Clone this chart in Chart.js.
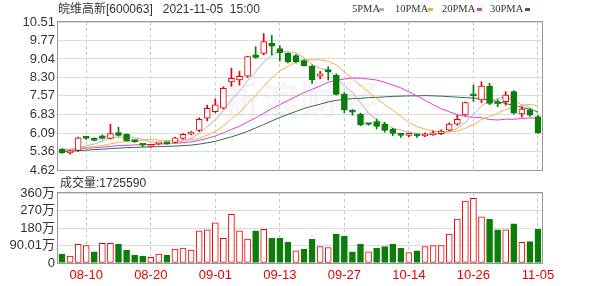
<!DOCTYPE html>
<html><head><meta charset="utf-8">
<script src="https://cdn.jsdelivr.net/npm/chart.js@4"></script>
<style>
html,body{margin:0;padding:0;background:#fff;}
#wrap{position:relative;width:600px;height:286px;overflow:hidden;font-family:'Liberation Sans','Noto Sans CJK SC',sans-serif;}
canvas{position:absolute;left:0;top:0;}
.t{position:absolute;white-space:pre;color:#333;font-size:12px;line-height:14px;}
.lg{position:absolute;top:3px;white-space:pre;color:#333;font-family:'Liberation Serif',serif;font-size:10.5px;line-height:12px;}
.mk{position:absolute;top:8px;width:5px;height:3px;}
</style></head><body>
<div id="wrap">
<canvas id="vol" width="600" height="286"></canvas>
<canvas id="price" width="600" height="286"></canvas>
<div class="t" style="left:58px;top:2px;">皖维高新[600063]   2021-11-05  15:00</div>
<div class="t" style="left:60px;top:176px;">成交量:1725590</div>
<div class="lg" style="left:352px;">5PMA</div><div class="mk" style="left:379px;background:#b4b4b4;"></div>
<div class="lg" style="left:395px;">10PMA</div><div class="mk" style="left:428px;background:#f2b33d;"></div>
<div class="lg" style="left:442px;">20PMA</div><div class="mk" style="left:477px;background:#e03ce0;"></div>
<div class="lg" style="left:490px;">30PMA</div><div class="mk" style="left:525px;background:#2e6e3e;"></div>
</div>
<script>
const dates = ['08-05','08-06','08-09','08-10','08-11','08-12','08-13','08-16','08-17','08-18','08-19','08-20','08-23','08-24','08-25','08-26','08-27','08-30','08-31','09-01','09-02','09-03','09-06','09-07','09-08','09-09','09-10','09-13','09-14','09-15','09-16','09-17','09-22','09-23','09-24','09-27','09-28','09-29','09-30','10-08','10-11','10-12','10-13','10-14','10-15','10-18','10-19','10-20','10-21','10-22','10-25','10-26','10-27','10-28','10-29','11-01','11-02','11-03','11-04','11-05'];
const tickDates = ['08-10','08-20','09-01','09-13','09-27','10-14','10-26','11-05'];
const open  = [5.44,5.30,5.40,5.90,5.86,5.98,5.88,6.11,6.04,5.78,5.64,5.56,5.66,5.68,5.72,5.88,6.05,6.20,6.68,6.94,7.08,8.13,8.20,8.35,9.20,9.26,9.66,9.45,9.26,9.17,8.97,8.75,8.35,8.62,8.40,7.63,6.95,6.84,6.45,6.55,6.45,6.25,6.03,6.00,6.02,5.98,6.02,6.07,6.21,6.44,6.81,7.62,7.41,7.96,7.30,7.34,7.74,6.85,7.01,6.75];
const high  = [5.47,5.40,5.93,5.94,5.90,6.02,6.44,6.32,6.06,5.82,5.66,5.63,5.69,5.70,5.93,6.07,6.15,6.70,7.20,7.45,7.93,8.67,8.55,9.15,9.53,10.05,9.98,9.57,9.28,9.22,9.00,8.80,8.55,8.73,8.45,7.70,7.03,6.88,6.47,6.65,6.52,6.28,6.03,6.08,6.05,6.10,6.18,6.22,6.50,6.80,7.33,8.00,8.13,8.07,7.43,7.74,7.78,7.14,7.06,6.80];
const low   = [5.28,5.25,5.36,5.84,5.78,5.85,5.85,5.97,5.77,5.72,5.55,5.53,5.64,5.65,5.70,5.85,6.02,6.15,6.58,6.90,7.05,7.95,8.00,8.30,9.06,9.20,9.20,8.95,8.88,8.88,8.75,8.07,8.25,8.20,7.60,6.90,6.80,6.38,6.40,6.25,6.12,5.98,5.92,5.95,5.92,5.95,6.00,6.03,6.18,6.40,6.78,7.35,7.30,7.22,7.14,7.20,6.85,6.72,6.75,6.08];
const close = [5.30,5.38,5.90,5.88,5.80,5.88,6.07,6.00,5.79,5.75,5.61,5.60,5.68,5.67,5.90,6.04,6.09,6.64,7.07,7.21,7.87,8.27,8.35,9.13,9.10,9.73,9.55,9.29,8.93,8.93,8.77,8.20,8.45,8.52,7.63,7.01,6.92,6.41,6.43,6.35,6.20,6.08,6.00,6.03,5.98,6.05,6.10,6.17,6.45,6.64,7.30,7.57,7.96,7.27,7.25,7.60,6.88,7.04,6.80,6.10];
const ma5  = [5.42,5.41,5.50,5.58,5.65,5.77,5.91,5.93,5.91,5.90,5.84,5.75,5.69,5.66,5.69,5.78,5.88,6.07,6.35,6.61,6.98,7.41,7.75,8.17,8.54,8.92,9.17,9.36,9.32,9.29,9.09,8.82,8.66,8.57,8.31,7.96,7.71,7.30,6.88,6.62,6.46,6.29,6.21,6.13,6.06,6.03,6.03,6.07,6.15,6.28,6.53,6.83,7.18,7.35,7.47,7.53,7.39,7.21,7.11,6.88];
const ma10 = [5.44,5.43,5.48,5.52,5.55,5.60,5.66,5.72,5.75,5.78,5.81,5.83,5.81,5.79,5.80,5.81,5.82,5.88,6.01,6.15,6.38,6.65,6.91,7.26,7.58,7.95,8.29,8.56,8.75,8.92,9.01,9.00,9.01,8.95,8.80,8.53,8.27,7.98,7.73,7.47,7.21,7.00,6.76,6.51,6.34,6.25,6.16,6.14,6.14,6.17,6.28,6.43,6.63,6.75,6.88,7.03,7.11,7.20,7.23,7.18];
const ma20 = [5.45,5.44,5.47,5.49,5.50,5.53,5.56,5.59,5.60,5.62,5.63,5.63,5.65,5.66,5.68,5.71,5.74,5.80,5.88,5.97,6.10,6.24,6.36,6.53,6.69,6.88,7.06,7.22,7.38,7.54,7.70,7.83,7.96,8.11,8.19,8.24,8.28,8.27,8.24,8.20,8.11,8.00,7.89,7.73,7.57,7.39,7.22,7.06,6.94,6.82,6.75,6.72,6.70,6.63,6.61,6.64,6.64,6.67,6.69,6.68];
const ma30 = [5.36,5.37,5.39,5.41,5.43,5.45,5.47,5.49,5.51,5.52,5.53,5.54,5.55,5.56,5.57,5.59,5.61,5.65,5.70,5.76,5.85,5.94,6.04,6.16,6.29,6.43,6.57,6.71,6.83,6.95,7.07,7.16,7.24,7.33,7.39,7.43,7.46,7.47,7.50,7.51,7.53,7.55,7.56,7.57,7.57,7.58,7.57,7.56,7.54,7.52,7.50,7.48,7.47,7.40,7.34,7.27,7.18,7.11,7.03,6.94];
const volume = [46,36,96,89,58,101,101,96,67,41,36,29,46,41,72,77,67,166,170,207,127,250,166,123,166,173,127,127,106,63,72,122,84,79,149,139,58,96,58,75,84,96,75,53,63,84,89,89,149,226,319,333,238,226,170,170,201,106,110,172.56];
const volUp = [0,1,1,1,0,1,1,0,0,0,0,1,1,0,1,1,1,1,1,1,1,1,1,1,0,1,0,0,0,1,0,0,1,1,0,0,0,0,1,0,0,0,0,1,0,1,1,1,1,1,1,1,1,0,0,1,0,1,0,0];
const priceTicks = [4.62,5.36,6.09,6.83,7.57,8.30,9.04,9.77,10.51];
const volTicks = [0,90.01,180,270,360];
const volTickLabels = ['0','90.01万','180万','270万','360万'];

const RED = '#e60000', GREEN = '#0b7d0b';
Chart.defaults.font.family = "'Liberation Sans','Noto Sans CJK SC',sans-serif";
const candleUp = close.map((c, i) => c >= open[i]);

const frame = {
  id: 'frame',
  beforeDatasetsDraw(chart, args, opts) {
    if (!opts.watermark) return;
    const ctx = chart.ctx;
    ctx.save();
    ctx.fillStyle = 'rgba(160,160,160,0.09)';
    ctx.font = "bold 40px 'Noto Sans CJK SC'";
    ctx.textAlign = 'center'; ctx.textBaseline = 'middle';
    ctx.fillText('新浪财经', 300, 100);
    ctx.restore();
  },
  afterDraw(chart) {
    const a = chart.chartArea, ctx = chart.ctx;
    ctx.save();
    ctx.strokeStyle = '#999'; ctx.lineWidth = 1;
    const l = Math.round(a.left) - 0.5, t = Math.round(a.top) - 0.5;
    ctx.strokeRect(l, t, Math.round(a.right) - Math.round(a.left) + 1, Math.round(a.bottom) - Math.round(a.top) + 1);
    ctx.restore();
  }
};

const xGrid = {
  offset: false, drawTicks: false, lineWidth: 1,
  color: c => tickDates.includes(dates[c.index]) ? '#c8c8c8' : 'rgba(0,0,0,0)',
  borderDash: [3, 3]
};

new Chart(document.getElementById('price'), {
  type: 'bar',
  data: {
    labels: dates,
    datasets: [
      { type: 'line', data: ma5, borderColor: '#b4b4b4', borderWidth: 1, pointRadius: 0, order: 3 },
      { type: 'line', data: ma10, borderColor: '#f2b33d', borderWidth: 1, pointRadius: 0, order: 3 },
      { type: 'line', data: ma20, borderColor: '#e03ce0', borderWidth: 1, pointRadius: 0, order: 3 },
      { type: 'line', data: ma30, borderColor: '#2e6e3e', borderWidth: 1, pointRadius: 0, order: 3 },
      { type: 'bar', data: low.map((l, i) => [l, high[i]]), backgroundColor: candleUp.map(u => u ? RED : GREEN),
        borderWidth: 0, barThickness: 1, grouped: false, order: 2 },
      { type: 'bar', data: open.map((o, i) => [o, close[i]]), backgroundColor: candleUp.map(u => u ? '#fff' : GREEN),
        borderColor: candleUp.map(u => u ? RED : GREEN), borderWidth: 1, borderSkipped: false,
        barThickness: 6, grouped: false, minBarLength: 2, order: 1 }
    ]
  },
  options: {
    responsive: false, animation: false, events: [],
    layout: { padding: { top: 22, bottom: 116, left: 0, right: 58 } },
    plugins: { legend: { display: false }, tooltip: { enabled: false }, frame: { watermark: true } },
    scales: {
      x: { ticks: { display: false }, grid: xGrid, border: { display: false, dash: [3, 3] },
           afterFit: s => { s.height = 0; } },
      y: { min: 4.62, max: 10.51,
           afterBuildTicks: s => { s.ticks = priceTicks.map(v => ({ value: v })); },
           ticks: { autoSkip: false, callback: v => Number(v).toFixed(2), color: '#333', font: { size: 13 }, padding: 3 },
           grid: { color: '#dcdcdc', drawTicks: false }, border: { display: false },
           afterFit: s => { s.width = 58; } }
    }
  },
  plugins: [frame]
});

new Chart(document.getElementById('vol'), {
  type: 'bar',
  data: {
    labels: dates,
    datasets: [
      { data: volume, backgroundColor: volUp.map(u => u ? '#fff' : GREEN), borderColor: volUp.map(u => u ? RED : GREEN),
        borderWidth: 1, borderSkipped: false, barThickness: 6 }
    ]
  },
  options: {
    responsive: false, animation: false, events: [],
    layout: { padding: { top: 193, bottom: 0, left: 0, right: 58 } },
    plugins: { legend: { display: false }, tooltip: { enabled: false }, frame: { watermark: false } },
    scales: {
      x: { ticks: { autoSkip: false, maxRotation: 0, minRotation: 0, padding: 5, color: RED, font: { size: 13 },
                    callback: (v, i) => tickDates.includes(dates[i]) ? dates[i] : '' },
           grid: xGrid, border: { display: false, dash: [3, 3] },
           afterFit: s => { s.height = 23; } },
      y: { min: 0, max: 360,
           afterBuildTicks: s => { s.ticks = volTicks.map(v => ({ value: v })); },
           ticks: { autoSkip: false, callback: v => volTickLabels[volTicks.indexOf(v)], color: '#333', font: { size: 13 }, padding: 3 },
           grid: { color: '#dcdcdc', drawTicks: false }, border: { display: false },
           afterFit: s => { s.width = 58; } }
    }
  },
  plugins: [frame]
});
</script>
</body></html>
